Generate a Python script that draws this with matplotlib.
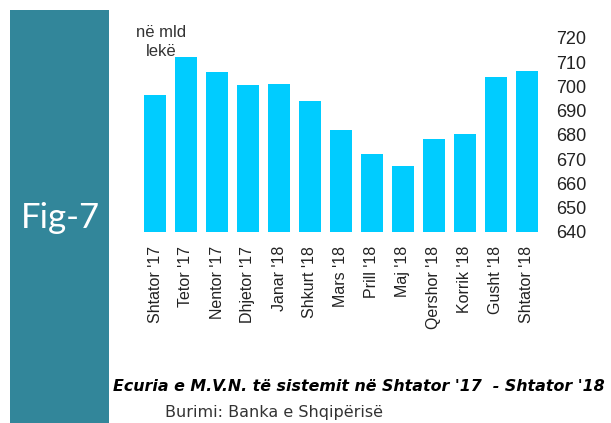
import matplotlib.pyplot as plt
from matplotlib.patches import Rectangle

months = ["Shtator '17", "Tetor '17", "Nentor '17", "Dhjetor '17", "Janar '18",
          "Shkurt '18", "Mars '18", "Prill '18", "Maj '18", "Qershor '18",
          "Korrik '18", "Gusht '18", "Shtator '18"]
mvn = [696.5, 712.3, 705.9, 700.7, 701.1, 694.1, 682.1, 672.1, 667.2, 678.3, 680.4, 704.0, 706.5]
y_ticks = [640, 650, 660, 670, 680, 690, 700, 710, 720]

plt.rcParams["font.family"] = ["Liberation Sans", "DejaVu Sans"]

W, H = 611, 423
fig = plt.figure(figsize=(W / 100, H / 100), dpi=100)

# teal side panel
fig.patches.append(Rectangle((10 / W, 0), 99 / W, 413 / H, transform=fig.transFigure,
                             facecolor="#32869A", edgecolor="none", zorder=0))
fig.text(60 / W, 1 - 218 / H, "Fig-7", color="white", fontsize=25, family="Lato",
         ha="center", va="center")

ax = fig.add_axes([139.5 / W, 1 - 232 / H, 403 / W, 194 / H])
x = range(len(months))
ax.bar(x, [v - 640 for v in mvn], bottom=640, width=0.71, color="#00CCFF")
ax.set_xlim(-0.5, len(months) - 0.5)
ax.set_ylim(640, 720)
ax.set_yticks(y_ticks)
ax.yaxis.tick_right()
ax.tick_params(axis="y", length=0, pad=10, labelsize=13, labelcolor="#222222")
ax.set_xticks(list(x))
ax.set_xticklabels(months, rotation=90, fontsize=11.5, color="#222222")
ax.tick_params(axis="x", length=0, pad=10)
for s in ax.spines.values():
    s.set_visible(False)

fig.text(161 / W, 1 - 42 / H, "në mld\nlekë", fontsize=12, color="#333333",
         ha="center", va="center", linespacing=1.35)

fig.text(113 / W, 1 - 386 / H, "Ecuria e M.V.N. të sistemit në Shtator '17  - Shtator '18",
         fontsize=11.4, fontweight="bold", style="italic", color="black",
         family="DejaVu Sans", ha="left", va="center")
fig.text(165 / W, 1 - 412 / H, "Burimi: Banka e Shqipërisë", fontsize=11.5,
         color="#333333", family="DejaVu Sans", ha="left", va="center")

fig.savefig("out.png", dpi=100)
